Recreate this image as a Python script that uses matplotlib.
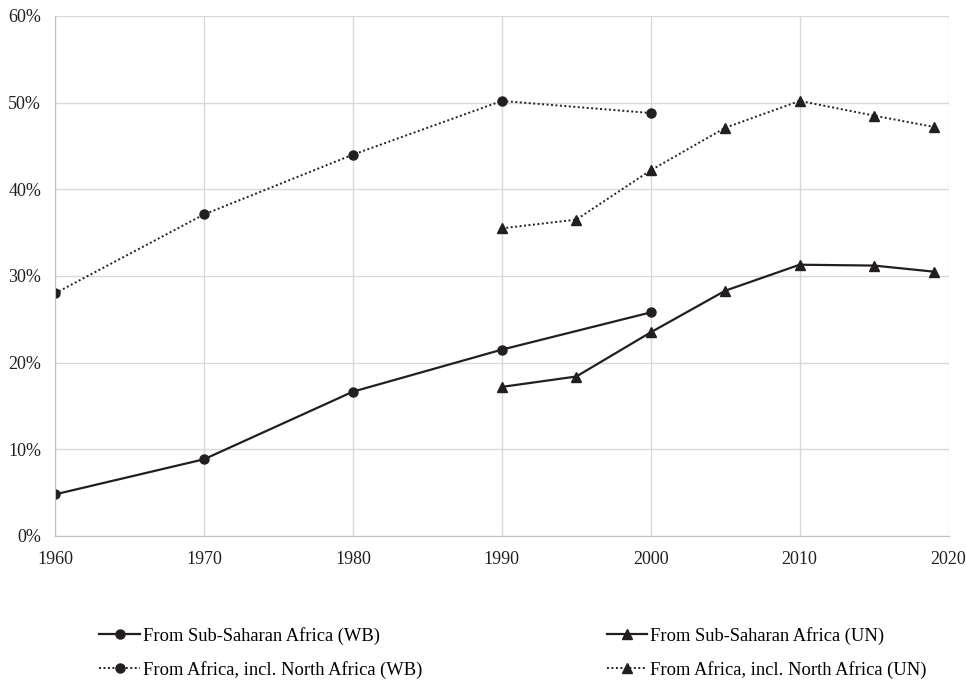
import matplotlib.pyplot as plt
from matplotlib.ticker import PercentFormatter

plt.rcParams['font.family'] = ['Liberation Serif', 'DejaVu Serif']

# data (percent)
years_wb = [1960, 1970, 1980, 1990, 2000]
ssa_wb = [4.8, 8.85, 16.65, 21.5, 25.8]
africa_wb = [28.0, 37.1, 44.0, 50.2, 48.8]

years_un = [1990, 1995, 2000, 2005, 2010, 2015, 2019]
ssa_un = [17.2, 18.4, 23.5, 28.3, 31.3, 31.2, 30.5]
africa_un = [35.5, 36.5, 42.2, 47.1, 50.2, 48.5, 47.2]

ink = '#231f20'
grid_col = '#d9d9d9'

fig = plt.figure(figsize=(9.66, 6.8), dpi=100)
ax = fig.add_axes([0.057, 0.2118, 0.925, 0.7647])

l1, = ax.plot(years_wb, ssa_wb, color=ink, lw=1.6, marker='o', ms=6.5,
              label='From Sub-Saharan Africa (WB)')
l2, = ax.plot(years_un, ssa_un, color=ink, lw=1.6, marker='^', ms=6.5,
              label='From Sub-Saharan Africa (UN)')
l3, = ax.plot(years_wb, africa_wb, color=ink, lw=1.4, ls=(0, (1, 1.3)), marker='o', ms=6.5,
              label='From Africa, incl. North Africa (WB)')
l4, = ax.plot(years_un, africa_un, color=ink, lw=1.4, ls=(0, (1, 1.3)), marker='^', ms=6.5,
              label='From Africa, incl. North Africa (UN)')

ax.set_xlim(1960, 2020)
ax.set_ylim(0, 60)
ax.set_xticks(range(1960, 2021, 10))
ax.set_yticks(range(0, 61, 10))
ax.yaxis.set_major_formatter(PercentFormatter(decimals=0))
ax.grid(True, color=grid_col, lw=1)
ax.set_axisbelow(True)
for s in ['top', 'right']:
    ax.spines[s].set_visible(False)
for s in ['left', 'bottom']:
    ax.spines[s].set_color('#bfbfbf')
ax.tick_params(length=0, labelsize=13, colors=ink, pad=10)
ax.tick_params(axis='x', pad=11)

leg_kw = dict(loc='upper left', bbox_transform=fig.transFigure, frameon=False,
              fontsize=13.3, handlelength=2.2, handletextpad=0.15, labelspacing=0.85,
              borderaxespad=0, borderpad=0)
fig.legend(handles=[l1, l3], bbox_to_anchor=(0.103, 0.078), **leg_kw)
fig.legend(handles=[l2, l4], bbox_to_anchor=(0.628, 0.078), **leg_kw)

fig.savefig('out.png', dpi=100)
